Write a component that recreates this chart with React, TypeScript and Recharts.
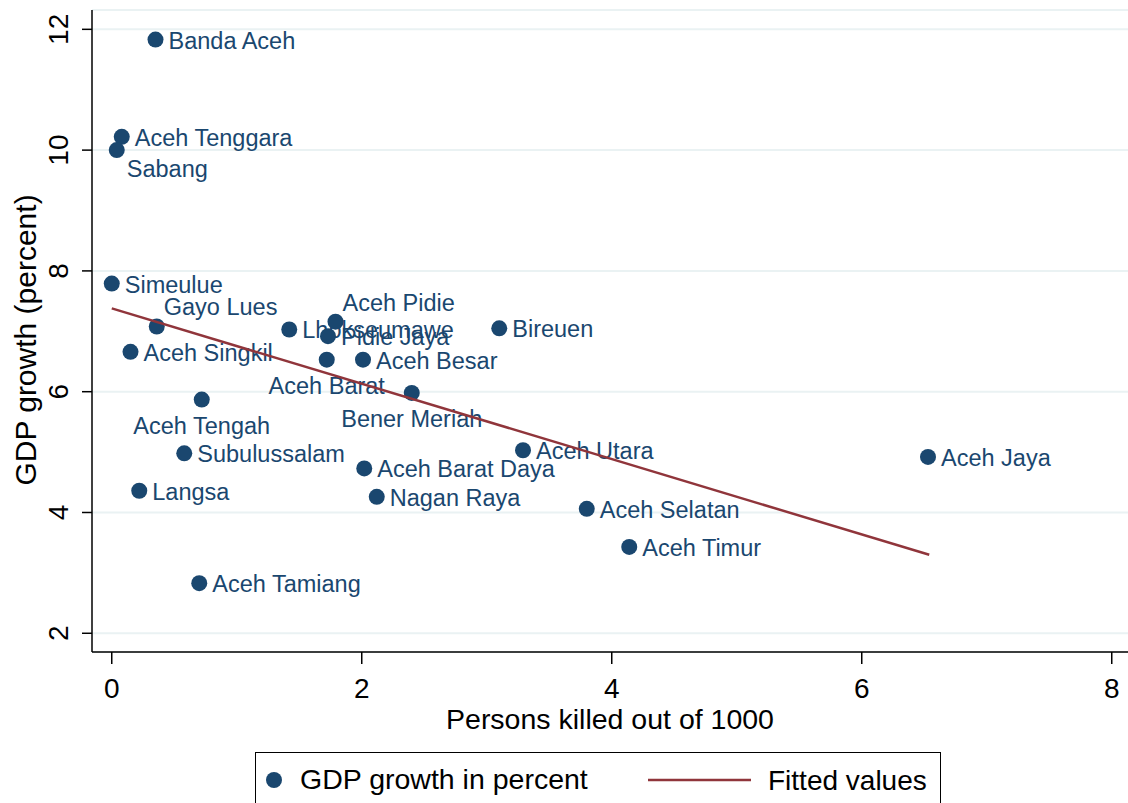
import React from 'react';
import { ScatterChart, Scatter, XAxis, YAxis, CartesianGrid, Label } from 'recharts';

const districts = [
    'Banda Aceh', 'Aceh Tenggara', 'Sabang', 'Simeulue', 'Gayo Lues', 'Aceh Singkil',
    'Aceh Tengah', 'Subulussalam', 'Langsa', 'Aceh Tamiang', 'Lhokseumawe', 'Aceh Pidie',
    'Pidie Jaya', 'Aceh Barat', 'Aceh Besar', 'Bener Meriah', 'Aceh Barat Daya', 'Nagan Raya',
    'Bireuen', 'Aceh Utara', 'Aceh Selatan', 'Aceh Timur', 'Aceh Jaya',
];
const killed = [
    0.35, 0.08, 0.04, 0.0, 0.36, 0.15,
    0.72, 0.58, 0.22, 0.70, 1.42, 1.79,
    1.73, 1.72, 2.01, 2.40, 2.02, 2.12,
    3.10, 3.29, 3.80, 4.14, 6.53,
];
const gdpGrowth = [
    11.83, 10.22, 10.0, 7.79, 7.08, 6.66,
    5.87, 4.98, 4.36, 2.83, 7.03, 7.16,
    6.92, 6.53, 6.53, 5.98, 4.73, 4.26,
    7.05, 5.03, 4.06, 3.43, 4.92,
];
// fitted values at the ends of the line
const fitX = [0, 6.54];
const fitY = [7.38, 3.30];

const xTicks = [0, 2, 4, 6, 8];
const yTicks = [2, 4, 6, 8, 10, 12];

// stata style clock positions for marker labels (default 3)
const labelClock: Record<string, number> = {
    Sabang: 4,
    'Gayo Lues': 1,
    'Aceh Pidie': 1,
    'Aceh Tengah': 6,
    'Aceh Barat': 6,
    'Bener Meriah': 6,
};

const points = districts.map((name, i) => ({ name, x: killed[i], y: gdpGrowth[i] }));
const fitted = fitX.map((x, i) => ({ x, y: fitY[i] }));

const NAVY = '#1a476f';
const MAROON = '#90353b';
const FONT = '"Liberation Sans", Arial, Helvetica, sans-serif';

const clockOffset: Record<number, { dx: number; dy: number; anchor: 'start' | 'middle' }> = {
    3: { dx: 13, dy: 9, anchor: 'start' },
    4: { dx: 10, dy: 27, anchor: 'start' },
    1: { dx: 7, dy: -11, anchor: 'start' },
    6: { dx: 0, dy: 34, anchor: 'middle' },
};

const PointShape = (props: any) => {
    const { cx, cy, payload } = props;
    const o = clockOffset[labelClock[payload.name] ?? 3];
    return (
        <g>
            <circle cx={cx} cy={cy} r={8} fill={NAVY} />
            <text x={cx + o.dx} y={cy + o.dy} textAnchor={o.anchor} fontSize={23.5} fill={NAVY} fontFamily={FONT}>
                {payload.name}
            </text>
        </g>
    );
};

const YTick = (props: any) => {
    const { x, y, payload } = props;
    return (
        <text x={x} y={y} transform={`rotate(-90, ${x}, ${y})`} textAnchor="middle" fontSize={28} fill="#000" fontFamily={FONT}>
            {payload.value}
        </text>
    );
};

const YTitle = (props: any) => {
    const { viewBox } = props;
    const cx = viewBox.x + 36;
    const cy = viewBox.y + viewBox.height / 2 + 9;
    return (
        <text x={cx} y={cy} transform={`rotate(-90, ${cx}, ${cy})`} textAnchor="middle" fontSize={30} fill="#000" fontFamily={FONT}>
            GDP growth (percent)
        </text>
    );
};

export default () => {
    return (
        <div style={{ position: 'absolute', left: 0, top: 0, width: 1128, height: 803, background: '#fff', overflow: 'hidden' }}>
            <ScatterChart width={1128} height={803} margin={{ top: 10, right: 0, bottom: 0, left: 0 }}>
                <CartesianGrid horizontal vertical={false} stroke="#eaf2f3" strokeWidth={2} />
                <XAxis
                    type="number"
                    dataKey="x"
                    domain={[-0.158, 8.13]}
                    ticks={xTicks}
                    allowDataOverflow
                    height={151}
                    tickSize={12}
                    tickMargin={14}
                    axisLine={{ stroke: '#000', strokeWidth: 1.5 }}
                    tickLine={{ stroke: '#000', strokeWidth: 1.5 }}
                    tick={{ fontSize: 28, fill: '#000', fontFamily: FONT }}
                    label={{ value: 'Persons killed out of 1000', position: 'insideTop', offset: 57, fontSize: 28.5, fill: '#000', fontFamily: FONT }}
                />
                <YAxis
                    type="number"
                    dataKey="y"
                    domain={[1.69, 12.32]}
                    ticks={yTicks}
                    allowDataOverflow
                    width={92}
                    tickSize={10}
                    tickMargin={14}
                    axisLine={{ stroke: '#000', strokeWidth: 1.5 }}
                    tickLine={{ stroke: '#000', strokeWidth: 1.5 }}
                    tick={<YTick />}
                >
                    <Label content={<YTitle />} />
                </YAxis>
                <Scatter name="GDP growth in percent" data={points} shape={<PointShape />} isAnimationActive={false} />
                <Scatter
                    name="Fitted values"
                    data={fitted}
                    line={{ stroke: MAROON, strokeWidth: 2.5 }}
                    shape={() => <g />}
                    isAnimationActive={false}
                />
            </ScatterChart>
            <div
                style={{
                    position: 'absolute',
                    left: 255,
                    top: 752,
                    width: 686,
                    height: 51,
                    border: '1.5px solid #000',
                    borderBottom: 'none',
                    boxSizing: 'border-box',
                }}
            >
                <svg width={684} height={51} style={{ display: 'block' }}>
                    <circle cx={18} cy={27} r={8} fill={NAVY} />
                    <text x={44} y={36} fontSize={28.5} fill="#000" fontFamily={FONT}>GDP growth in percent</text>
                    <line x1={392} x2={495} y1={27} y2={27} stroke={MAROON} strokeWidth={2.5} />
                    <text x={512} y={37} fontSize={28} fill="#000" fontFamily={FONT}>Fitted values</text>
                </svg>
            </div>
        </div>
    );
};
